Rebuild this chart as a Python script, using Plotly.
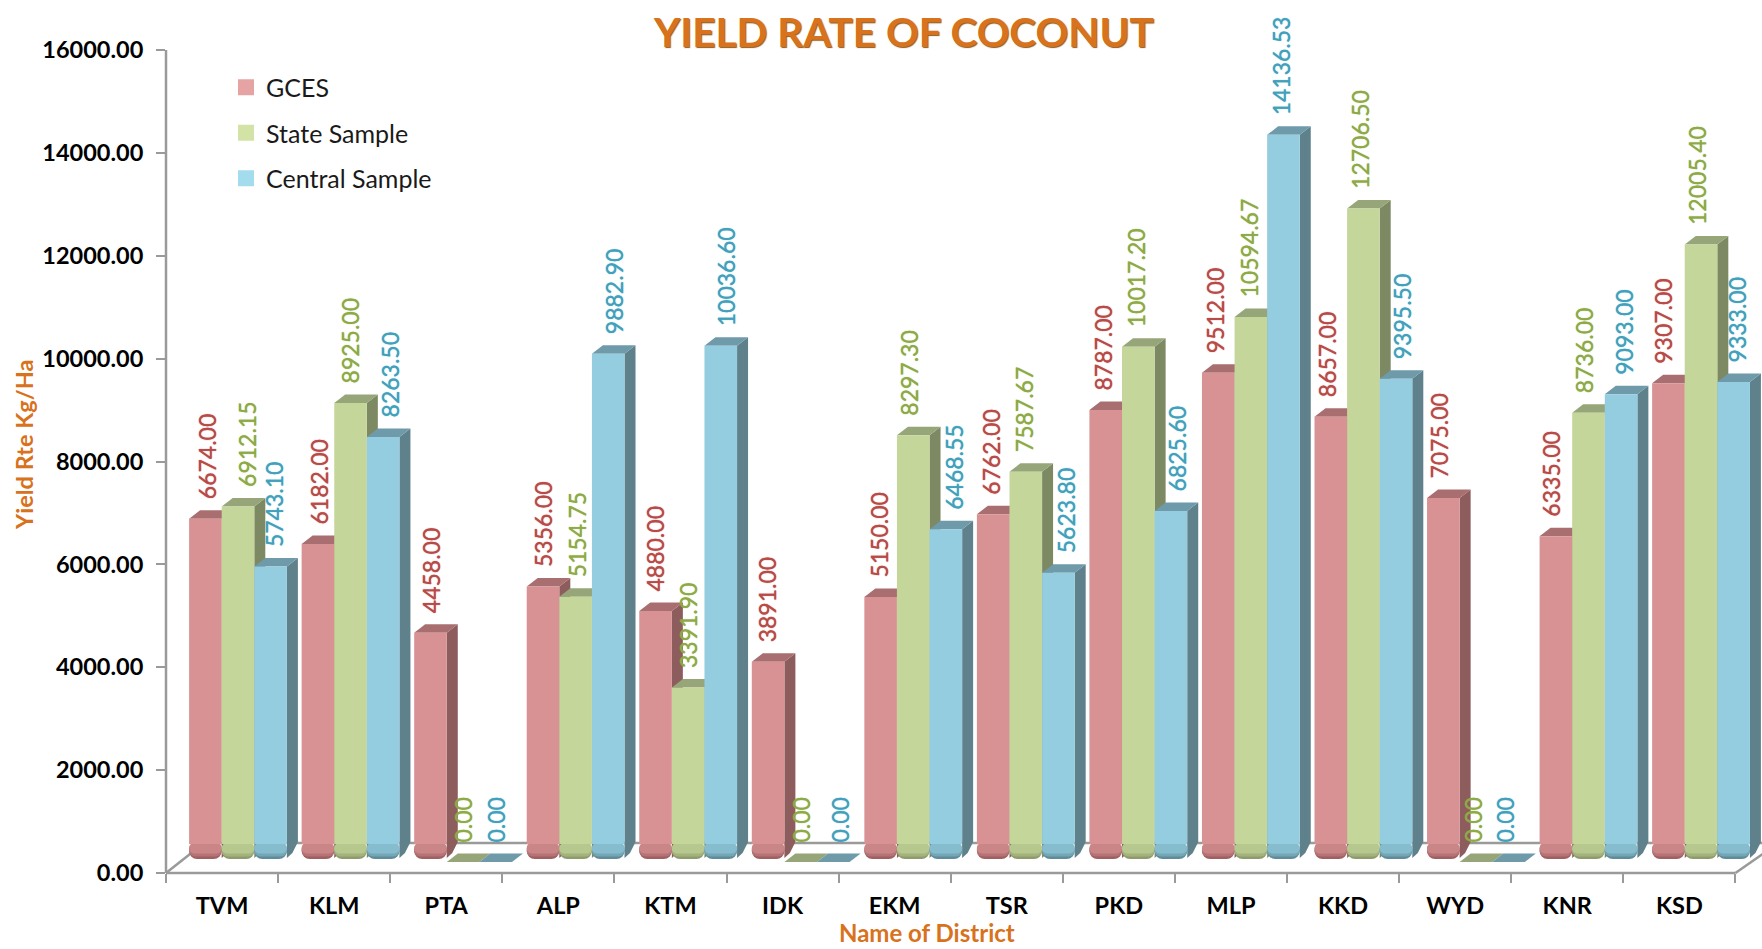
import plotly.graph_objects as go

districts = ["TVM","KLM","PTA","ALP","KTM","IDK","EKM","TSR","PKD","MLP","KKD","WYD","KNR","KSD"]
gces = [6674.00,6182.00,4458.00,5356.00,4880.00,3891.00,5150.00,6762.00,8787.00,9512.00,8657.00,7075.00,6335.00,9307.00]
state = [6912.15,8925.00,0.00,5154.75,3391.90,0.00,8297.30,7587.67,10017.20,10594.67,12706.50,0.00,8736.00,12005.40]
central = [5743.10,8263.50,0.00,9882.90,10036.60,0.00,6468.55,5623.80,6825.60,14136.53,9395.50,0.00,9093.00,9333.00]
y_ticks = [0,2000,4000,6000,8000,10000,12000,14000,16000]

# Where each label sits right of the GCES label of its group (pixels)
state_label_dx = [40,31,31,34,33,33,30,33,33,34,33,33,33,34]
central_label_dx = [67,71,64,71,71,72,75,75,74,66,75,65,73,74]

W, H = 1762, 949
X0, X_STEP = 166, 112.1          # category (tick) axis
BAR_C0, BAR_STEP = 238, 112.54   # bar plane, slightly wider than the axis in the perspective
Y0, Y_TOP = 873, 50
PX_PER_UNIT = (Y0 - Y_TOP) / 16000
FONT = "Lato"
ORANGE = "#D9721C"
AXIS = "#9A9A9A"

def dxu(px): return px / BAR_STEP
def dyu(px): return px / PX_PER_UNIT
def px_to_x2(px): return (px - BAR_C0) / BAR_STEP
def paper_x(px): return (px - X0) / (W - X0)
def paper_y(py): return (Y0 - py) / (Y0 - Y_TOP)

def blend(c1, c2, t):
    a = [int(c1[i:i+2], 16) for i in (1, 3, 5)]
    b = [int(c2[i:i+2], 16) for i in (1, 3, 5)]
    return "#" + "".join(f"{round(p + (q - p) * t):02X}" for p, q in zip(a, b))

BASE_LIFT = dyu(11)
SIDE_X, SIDE_Y = dxu(11), dyu(8.5)
BAR_W = dxu(32.6)
FOOT_TOP = dyu(30)
FOOT_BOTTOMS = [dyu(14), dyu(16.5), dyu(19.5)]
FOOT_MIX = [1.0, 0.6, 0.25]

series = [
    ("GCES", gces, "#D89294", "#8D5C5C", "#A96F70", "#A05F60", "#E5A3A3", "#B84A48", -1),
    ("State Sample", state, "#C5D69A", "#7C8963", "#96A678", "#8E9C6C", "#D2E3A5", "#8DAA47", 0),
    ("Central Sample", central, "#93CDDF", "#5F818C", "#6E9AAA", "#5F8C9B", "#A3DCEC", "#43A0BC", 1),
]

fig = go.Figure()
# keeps the category and value axes on the page
fig.add_trace(go.Scatter(x=districts, y=[None] * len(districts), mode="lines", hoverinfo="skip", showlegend=False))

annotations = []
n = len(districts)
for s_idx, (name, vals, front, side, top, cap, leg, lab, pos) in enumerate(series):
    z = s_idx * 10 + 1
    offset = (pos - 0.5) * BAR_W
    for i, v in enumerate(vals):
        l = i + offset; r = l + BAR_W
        t = BASE_LIFT + v
        if v > 0:
            sx = [r, r + SIDE_X * 0.5, r + SIDE_X, r + SIDE_X, r, r]
            sy = [dyu(15), dyu(20), dyu(31), t + SIDE_Y, t, dyu(15)]
            fig.add_trace(go.Scatter(x=sx, y=sy, xaxis="x2", yaxis="y2", mode="lines", fill="toself",
                                     fillcolor=side, line=dict(width=0), hoverinfo="skip", showlegend=False, zorder=z))
        tx = [l, l + SIDE_X, r + SIDE_X, r, l]
        ty = [t, t + SIDE_Y, t + SIDE_Y, t, t]
        fig.add_trace(go.Scatter(x=tx, y=ty, xaxis="x2", yaxis="y2", mode="lines", fill="toself",
                                 fillcolor=top, line=dict(width=0), hoverinfo="skip", showlegend=False, zorder=z))
        label_px = 207 + 112.0 * i + (0 if pos < 0 else state_label_dx[i] if pos == 0 else central_label_dx[i])
        annotations.append(dict(
            x=px_to_x2(label_px), y=t, xref="x2", yref="y2", text=f"{v:.2f}", showarrow=False,
            textangle=-90, yanchor="bottom", xanchor="center", yshift=17,
            font=dict(family=FONT, size=23, color=lab, shadow=f"0 0 1px {lab}")))
    xs = list(range(n))
    shown = [v if v > 0 else None for v in vals]
    # rounded, darkening foot of each bar: three nested rounded ends
    for k, (bottom, mix) in enumerate(zip(FOOT_BOTTOMS, FOOT_MIX)):
        fig.add_trace(go.Bar(x=xs, y=[bottom - FOOT_TOP if v else None for v in shown], base=[FOOT_TOP] * n,
                             width=BAR_W, offset=offset, xaxis="x2", yaxis="y2",
                             marker=dict(color=blend(front, cap, mix), line=dict(width=0), cornerradius=10),
                             hoverinfo="skip", showlegend=False, zorder=z + 1 + k))
    fig.add_trace(go.Bar(x=xs, y=[(BASE_LIFT + v - FOOT_TOP + dyu(1)) if v else None for v in shown],
                         base=[FOOT_TOP - dyu(1)] * n,
                         width=BAR_W, offset=offset, xaxis="x2", yaxis="y2",
                         marker=dict(color=front, line=dict(width=0)), name=name,
                         showlegend=False, zorder=z + 5))

# legend keys
for s_idx, (name, vals, front, side, top, cap, leg, lab, pos) in enumerate(series):
    fig.add_trace(go.Scatter(x=[None], y=[None], xaxis="x2", yaxis="y2", mode="markers", name=name, legendgroup=name,
                             marker=dict(symbol="square", size=16, color=leg)))

# value axis and floor edges
X_END = X0 + n * X_STEP
line = dict(color=AXIS, width=2.5)
frame = [
    (X0, Y_TOP, X0, Y0),
    (X0, Y0, X_END, Y0),
    (X0, Y0, X0 + 38, 843),
    (X_END, Y0, X_END + 43, 843),
    (X0 + 38, 843, X_END + 43, 843),
]
shapes = [dict(type="line", xref="paper", yref="paper", layer="below", line=line,
               x0=paper_x(a), y0=paper_y(b), x1=paper_x(c), y1=paper_y(d)) for a, b, c, d in frame]

x_range = [-0.5, -0.5 + (W - X0) / X_STEP]
annotations += [
    dict(text="YIELD RATE OF COCONUT", xref="paper", yref="paper", x=paper_x(903), y=paper_y(31),
         showarrow=False, xanchor="center", yanchor="middle",
         font=dict(family=FONT, size=40.5, color=ORANGE, weight="bold", shadow="1px 1px 1px #8a5a20")),
    dict(text="Yield Rte Kg/Ha", xref="paper", yref="paper", x=paper_x(24), y=paper_y(445),
         showarrow=False, textangle=-90, xanchor="center", yanchor="middle",
         font=dict(family=FONT, size=23.5, color=ORANGE, weight="bold")),
    dict(text="Name of District", xref="paper", yref="paper", x=paper_x(927), y=paper_y(949),
         showarrow=False, xanchor="center", yanchor="bottom",
         font=dict(family=FONT, size=24, color=ORANGE, weight="bold")),
]

fig.update_layout(
    width=W, height=H, margin=dict(l=X0, r=0, t=Y_TOP, b=H - Y0),
    plot_bgcolor="white", paper_bgcolor="white", barmode="overlay",
    showlegend=True, shapes=shapes,
    legend=dict(x=paper_x(226), y=paper_y(64.5), xanchor="left", yanchor="top",
                font=dict(family=FONT, size=25, color="#1a1a1a"), tracegroupgap=10, bgcolor="rgba(0,0,0,0)"),
    annotations=annotations,
    xaxis=dict(type="category", categoryorder="array", categoryarray=districts, range=x_range,
               tickmode="array", tickvals=districts, ticktext=[f"<b>{d}</b>" for d in districts],
               tickson="boundaries", ticks="outside", ticklen=9, tickwidth=2, tickcolor=AXIS,
               ticklabelstandoff=16, showline=False, showgrid=False, zeroline=False, fixedrange=True,
               tickfont=dict(family=FONT, size=23.5, color="black")),
    yaxis=dict(range=[0, 16000], tickvals=y_ticks, ticktext=[f"<b>{v:.2f}</b>" for v in y_ticks],
               ticks="outside", ticklen=9, tickwidth=2, tickcolor=AXIS, showline=False,
               ticklabelstandoff=8, showgrid=False, zeroline=False, fixedrange=True,
               tickfont=dict(family=FONT, size=23.5, color="black")),
    xaxis2=dict(overlaying="x", range=[px_to_x2(X0), px_to_x2(W)], visible=False, fixedrange=True),
    yaxis2=dict(overlaying="y", range=[0, 16000], visible=False, fixedrange=True),
)
fig.write_html("out.html", config=dict(displayModeBar=False),
               post_script="document.body.style.margin='0';document.documentElement.style.overflow='hidden';")
